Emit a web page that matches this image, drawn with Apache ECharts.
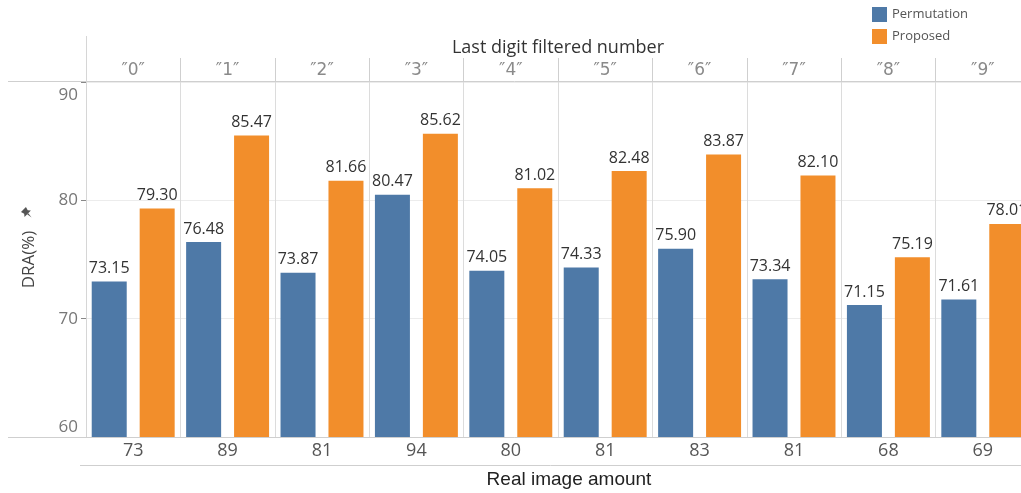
<!DOCTYPE html>
<html>
<head>
<meta charset="utf-8">
<script src="https://cdn.jsdelivr.net/npm/echarts@6/dist/echarts.min.js"></script>
<style>
html,body{margin:0;padding:0;background:#fff;}
#chart{width:1021px;height:493px;}
</style>
</head>
<body>
<div id="chart"></div>
<script>
const digitLabels = ['″0″','″1″','″2″','″3″','″4″','″5″','″6″','″7″','″8″','″9″'];
const realAmounts = ['73','89','81','94','80','81','83','81','68','69'];
const permutation = [73.15, 76.48, 73.87, 80.47, 74.05, 74.33, 75.90, 73.34, 71.15, 71.61];
const proposed = [79.30, 85.47, 81.66, 85.62, 81.02, 82.48, 83.87, 82.10, 75.19, 78.01];
const yTicks = [60, 70, 80, 90];

const FONT = 'Open Sans';
const chart = echarts.init(document.getElementById('chart'));
const barLabel = {
  show: true, position: 'top', distance: 5,
  fontFamily: FONT, fontSize: 16, color: '#333',
  formatter: p => p.value.toFixed(2)
};
chart.setOption({
  animation: false,
  textStyle: {fontFamily: FONT},
  legend: {
    orient: 'vertical', left: 867, top: 2, itemGap: 7,
    icon: 'rect', itemWidth: 15, itemHeight: 15,
    textStyle: {fontFamily: FONT, fontSize: 13, color: '#555'},
    data: ['Permutation', 'Proposed']
  },
  grid: {left: 86, top: 82, right: -9, height: 355, outerBoundsMode: 'none', containLabel: false},
  xAxis: [
    {
      type: 'category', position: 'bottom', data: digitLabels,
      axisLine: {show: false}, axisTick: {show: false},
      axisLabel: {formatter: (v, i) => realAmounts[i], fontFamily: FONT, fontSize: 18, color: '#555', margin: 5},
      splitLine: {show: true, lineStyle: {color: '#dcdcdc', width: 1}},
      name: 'Real image amount', nameLocation: 'middle', nameGap: 33,
      nameTextStyle: {fontFamily: 'Liberation Sans', fontSize: 19, color: '#222', padding: [0, 0, 0, 22]}
    },
    {
      type: 'category', position: 'top', data: digitLabels,
      axisLine: {show: false},
      axisTick: {show: true, length: 24, lineStyle: {color: '#cfcfcf'}},
      axisLabel: {fontFamily: 'DejaVu Sans', fontSize: 17, color: '#8a8a8a', margin: 3},
      name: 'Last digit filtered number', nameLocation: 'middle', nameGap: 25,
      nameTextStyle: {fontFamily: FONT, fontSize: 18, color: '#333'}
    }
  ],
  yAxis: {
    type: 'value', min: 60, max: 90, interval: 10,
    axisLine: {show: true, lineStyle: {color: '#d6d6d6'}},
    axisTick: {show: true, length: 5, lineStyle: {color: '#888'}},
    axisLabel: {
      fontFamily: FONT, fontSize: 17, color: '#777', margin: 8,
      formatter: v => v === yTicks[yTicks.length - 1] ? '{top|' + v + '}' : (v === yTicks[0] ? '{bot|' + v + '}' : String(v)),
      rich: {
        top: {fontFamily: FONT, fontSize: 17, color: '#777', padding: [26, 0, 0, 0]},
        bot: {fontFamily: FONT, fontSize: 17, color: '#777', padding: [0, 0, 20, 0]}
      }
    },
    splitLine: {show: true, lineStyle: {color: '#ececec'}},
    name: 'DRA(%)', nameLocation: 'middle', nameGap: 48, nameRotate: 90,
    nameTextStyle: {fontFamily: FONT, fontSize: 17, color: '#444'}
  },
  series: [
    {name: 'Permutation', type: 'bar', data: permutation, barWidth: 35, barGap: '37%',
     itemStyle: {color: '#4e79a7'}, label: barLabel},
    {name: 'Proposed', type: 'bar', data: proposed, barWidth: 35, barGap: '37%',
     itemStyle: {color: '#f28e2b'}, label: barLabel}
  ],
  graphic: [
    {type: 'line', shape: {x1: 8, y1: 81.5, x2: 1021, y2: 81.5}, style: {stroke: '#cfcfcf', lineWidth: 1}, z: 10},
    {type: 'line', shape: {x1: 8, y1: 437.5, x2: 1021, y2: 437.5}, style: {stroke: '#cfcfcf', lineWidth: 1}, z: 10},
    {type: 'line', shape: {x1: 80, y1: 465.5, x2: 1021, y2: 465.5}, style: {stroke: '#cfcfcf', lineWidth: 1}, z: 10},
    {type: 'line', shape: {x1: 86.5, y1: 36, x2: 86.5, y2: 82}, style: {stroke: '#d6d6d6', lineWidth: 1}, z: 10},
    {type: 'group', x: 27, y: 213, rotation: Math.PI / 4, children: [
      {type: 'polygon', shape: {points: [[-3.5,-5],[3.5,-5],[2.5,-1.5],[4.5,1],[-4.5,1],[-2.5,-1.5]]}, style: {fill: '#555'}},
      {type: 'polygon', shape: {points: [[-0.8,1],[0.8,1],[0,6.5]]}, style: {fill: '#555'}}
    ]}
  ]
});
</script>
</body>
</html>
